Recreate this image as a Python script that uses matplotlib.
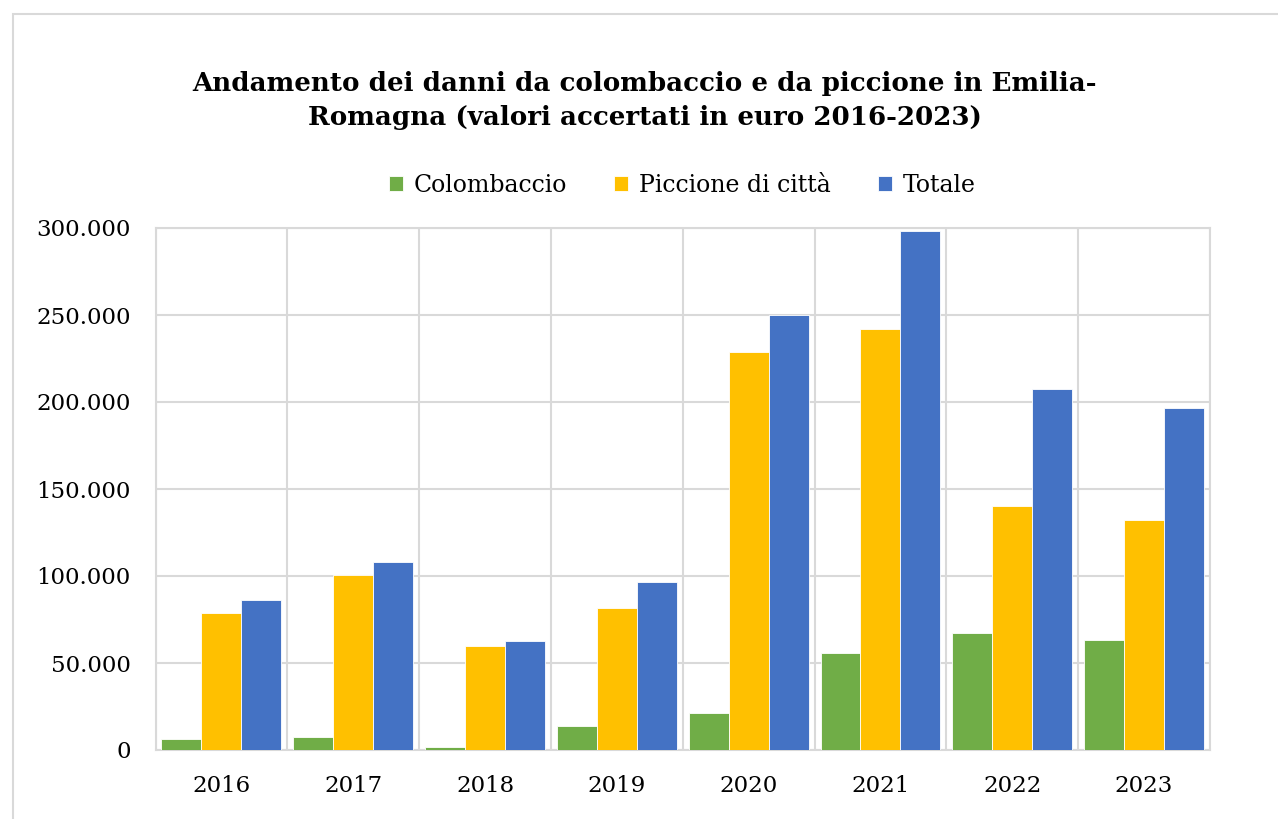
import matplotlib
matplotlib.use("Agg")
import matplotlib.pyplot as plt
import numpy as np
from matplotlib.patches import Rectangle
from matplotlib.ticker import FuncFormatter

years = ["2016", "2017", "2018", "2019", "2020", "2021", "2022", "2023"]
colombaccio = [6500, 7500, 1800, 14000, 21000, 55800, 67300, 63500]
piccione = [79000, 100500, 60000, 81700, 228700, 242000, 140000, 132300]
totale = [86000, 108000, 62500, 96400, 250000, 298000, 207500, 196600]
series_names = ["Colombaccio", "Piccione di città", "Totale"]
colors = ["#70AD47", "#FFC000", "#4472C4"]
yticks = [0, 50000, 100000, 150000, 200000, 250000, 300000]

plt.rcParams['font.family'] = ['DejaVu Serif']

W, H = 1278, 819
fig = plt.figure(figsize=(W / 100, H / 100), dpi=100)
fig.patch.set_facecolor("white")

# outer border
fig.add_artist(Rectangle((13 / W, -0.05), 1.2, (H - 14) / H + 0.05, transform=fig.transFigure,
                         fill=False, edgecolor="#D9D9D9", linewidth=1.5))

left, right, top, bottom = 155.5, 1210, 228, 750
ax = fig.add_axes([left / W, 1 - bottom / H, (right - left) / W, (bottom - top) / H])

x = np.arange(len(years))
bw = 0.303
for i, (vals, name, c) in enumerate(zip([colombaccio, piccione, totale], series_names, colors)):
    ax.bar(x + (i - 1) * bw, vals, width=bw, color=c, label=name,
           edgecolor="white", linewidth=0.6, zorder=3)

ax.set_xlim(-0.5, len(years) - 0.5)
ax.set_ylim(0, 300000)
ax.set_yticks(yticks)
ax.yaxis.set_major_formatter(FuncFormatter(lambda v, p: f"{int(v):,}".replace(",", ".")))
ax.set_xticks(x)
ax.set_xticklabels(years)
ax.set_xticks(np.arange(-0.5, len(years), 1), minor=True)
ax.grid(False)
ax.grid(axis="y", which="major", color="#D9D9D9", linewidth=1.5, zorder=0)
ax.grid(axis="x", which="minor", color="#D9D9D9", linewidth=1.5, zorder=0)
for s in ax.spines.values():
    s.set_color("#D9D9D9")
    s.set_linewidth(1.5)
ax.tick_params(axis="both", which="both", length=0, labelsize=16.5, colors="black")
ax.tick_params(axis="y", pad=18)
ax.tick_params(axis="x", pad=18)

fig.text(645 / W, 1 - 101 / H,
         "Andamento dei danni da colombaccio e da piccione in Emilia-\nRomagna (valori accertati in euro 2016-2023)",
         ha="center", va="center", fontsize=18.8, fontweight="bold", linespacing=1.45)

leg = fig.legend(loc="center", bbox_to_anchor=(682 / W, 1 - 185 / H), ncol=3, frameon=False,
                 fontsize=17, handlelength=0.6, handleheight=0.6, handletextpad=0.45,
                 columnspacing=2.0)

fig.savefig("out.png", dpi=100)
